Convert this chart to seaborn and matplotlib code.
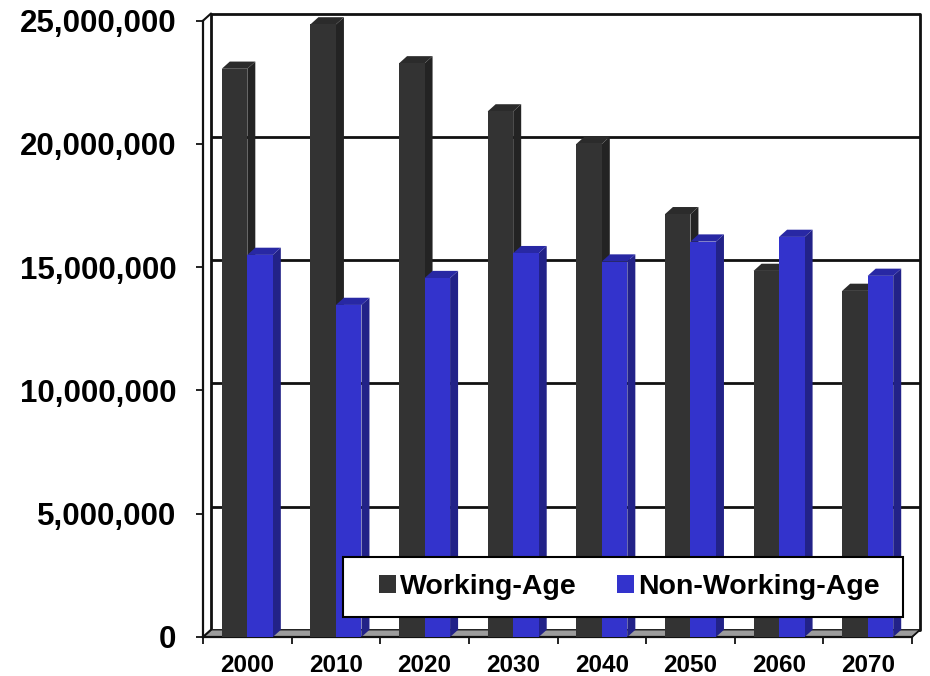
import matplotlib
matplotlib.use("Agg")
import matplotlib.pyplot as plt
import pandas as pd
import seaborn as sns
from matplotlib.patches import Polygon, Rectangle
from matplotlib.ticker import FuncFormatter, FixedLocator

# Population by decade, split into working-age and non-working-age groups
years = ["2000", "2010", "2020", "2030", "2040", "2050", "2060", "2070"]
working_age = [23_050_000, 24_850_000, 23_270_000, 21_320_000,
               20_000_000, 17_150_000, 14_850_000, 14_040_000]
non_working_age = [15_500_000, 13_470_000, 14_560_000, 15_570_000,
                   15_230_000, 16_040_000, 16_230_000, 14_650_000]
series_names = ["Working-Age", "Non-Working-Age"]
y_ticks = [0, 5_000_000, 10_000_000, 15_000_000, 20_000_000, 25_000_000]

front_colors = ["#333333", "#3333cc"]
side_colors = ["#232323", "#222288"]
top_colors = ["#2b2b2b", "#2828a4"]

df = pd.DataFrame({
    "Year": years * 2,
    "Population": working_age + non_working_age,
    "Group": [series_names[0]] * len(years) + [series_names[1]] * len(years),
})

sns.set_theme(style="white")
plt.rcParams["font.family"] = ["Liberation Sans", "DejaVu Sans"]
plt.rcParams["font.weight"] = "bold"
plt.rcParams["text.color"] = "black"

W, H = 930, 676
fig = plt.figure(figsize=(W / 100, H / 100), dpi=100)
ax = fig.add_axes([203 / W, 39 / H, 709 / W, 616.3 / H])

sns.barplot(data=df, x="Year", y="Population", hue="Group",
            hue_order=series_names, palette=front_colors, saturation=1,
            width=0.576, linewidth=0, ax=ax)

n = len(years)
ymax = y_ticks[-1]
ax.set_xlim(-0.5, n - 0.5)
ax.set_ylim(0, ymax)

# depth offset of the 3-D look, in pixels, converted to data units
DEPTH_X_PX, DEPTH_Y_PX = 8.0, 7.2
bb = ax.get_window_extent()
dx = DEPTH_X_PX * n / bb.width
dy = DEPTH_Y_PX * ymax / bb.height

# back wall: gridlines and frame
for v in y_ticks:
    ax.plot([-0.5 + dx, n - 0.5 + dx], [v + dy, v + dy], color="#111111",
            lw=2.0, zorder=0.5, clip_on=False, solid_capstyle="butt")
for xe in (-0.5 + dx, n - 0.5 + dx):
    ax.plot([xe, xe], [dy, ymax + dy], color="#111111", lw=2.0,
            zorder=0.5, clip_on=False)

# floor
floor = Polygon([(-0.5, 0), (n - 0.5, 0), (n - 0.5 + dx, dy), (-0.5 + dx, dy)],
                closed=True, facecolor="#9c9c9c", edgecolor="#222222",
                lw=1.0, zorder=0.6, clip_on=False)
ax.add_patch(floor)

# side-wall edges joining front and back planes
for yv in (0, ymax):
    ax.plot([-0.5, -0.5 + dx], [yv, yv + dy], color="#111111", lw=1.5,
            zorder=0.7, clip_on=False)
ax.plot([n - 0.5, n - 0.5 + dx], [0, dy], color="#111111", lw=1.2,
        zorder=0.7, clip_on=False)

# extrude each bar with a side and a top face
for hi, cont in enumerate(ax.containers):
    for bar in cont:
        x0, w, h = bar.get_x(), bar.get_width(), bar.get_height()
        ci = round(x0 + w / 2)
        base = 3 + ci * 0.1 + hi * 0.04
        side = Polygon([(x0 + w, 0), (x0 + w + dx, dy), (x0 + w + dx, h + dy),
                        (x0 + w, h)], closed=True, facecolor=side_colors[hi],
                       edgecolor="none", zorder=base, clip_on=False)
        top = Polygon([(x0, h), (x0 + w, h), (x0 + w + dx, h + dy),
                       (x0 + dx, h + dy)], closed=True,
                      facecolor=top_colors[hi], edgecolor="none",
                      zorder=base, clip_on=False)
        ax.add_patch(side)
        ax.add_patch(top)
        bar.set_zorder(base + 0.02)
        bar.set_clip_on(False)

# axes, ticks and labels
ax.set_xlabel("")
ax.set_ylabel("")
for s in ("top", "right"):
    ax.spines[s].set_visible(False)
for s in ("left", "bottom"):
    ax.spines[s].set_color("#111111")
    ax.spines[s].set_linewidth(1.6)
    ax.spines[s].set_zorder(0.8)

ax.yaxis.set_major_locator(FixedLocator(y_ticks))
ax.yaxis.set_major_formatter(FuncFormatter(lambda v, p: f"{v:,.0f}"))
ax.tick_params(axis="y", left=True, length=5, width=1.3, color="#111111",
               direction="out", pad=14, labelsize=22.5, labelcolor="black")
ax.set_xticks(range(n))
ax.set_xticklabels(years)
ax.set_xticks([i - 0.5 for i in range(n + 1)], minor=True)
ax.tick_params(axis="x", which="major", bottom=True, length=0, pad=12,
               labelsize=17.5, labelcolor="black")
ax.tick_params(axis="x", which="minor", bottom=True, length=5, width=1.3,
               color="#111111", direction="out")
for lab in ax.get_xticklabels() + ax.get_yticklabels():
    lab.set_fontweight("bold")

# legend box drawn as a white panel with the legend entries on top
legend_box = Rectangle((343 / W, 1 - 617 / H), 560 / W, 60 / H,
                       transform=fig.transFigure, facecolor="white",
                       edgecolor="black", lw=1.5, zorder=9, clip_on=False)
ax.add_patch(legend_box)

handles, labels = ax.get_legend_handles_labels()
leg = ax.legend(handles, labels, loc="center",
                bbox_to_anchor=(629 / W, 1 - 587 / H),
                bbox_transform=fig.transFigure, ncol=2, frameon=False,
                prop={"weight": "bold", "size": 20.5}, labelcolor="black",
                handlelength=0.62, handleheight=0.62, handletextpad=0.12,
                columnspacing=1.42, borderpad=0.2, borderaxespad=0)
leg.set_zorder(10)

fig.savefig("out.png", dpi=100, facecolor="white")
